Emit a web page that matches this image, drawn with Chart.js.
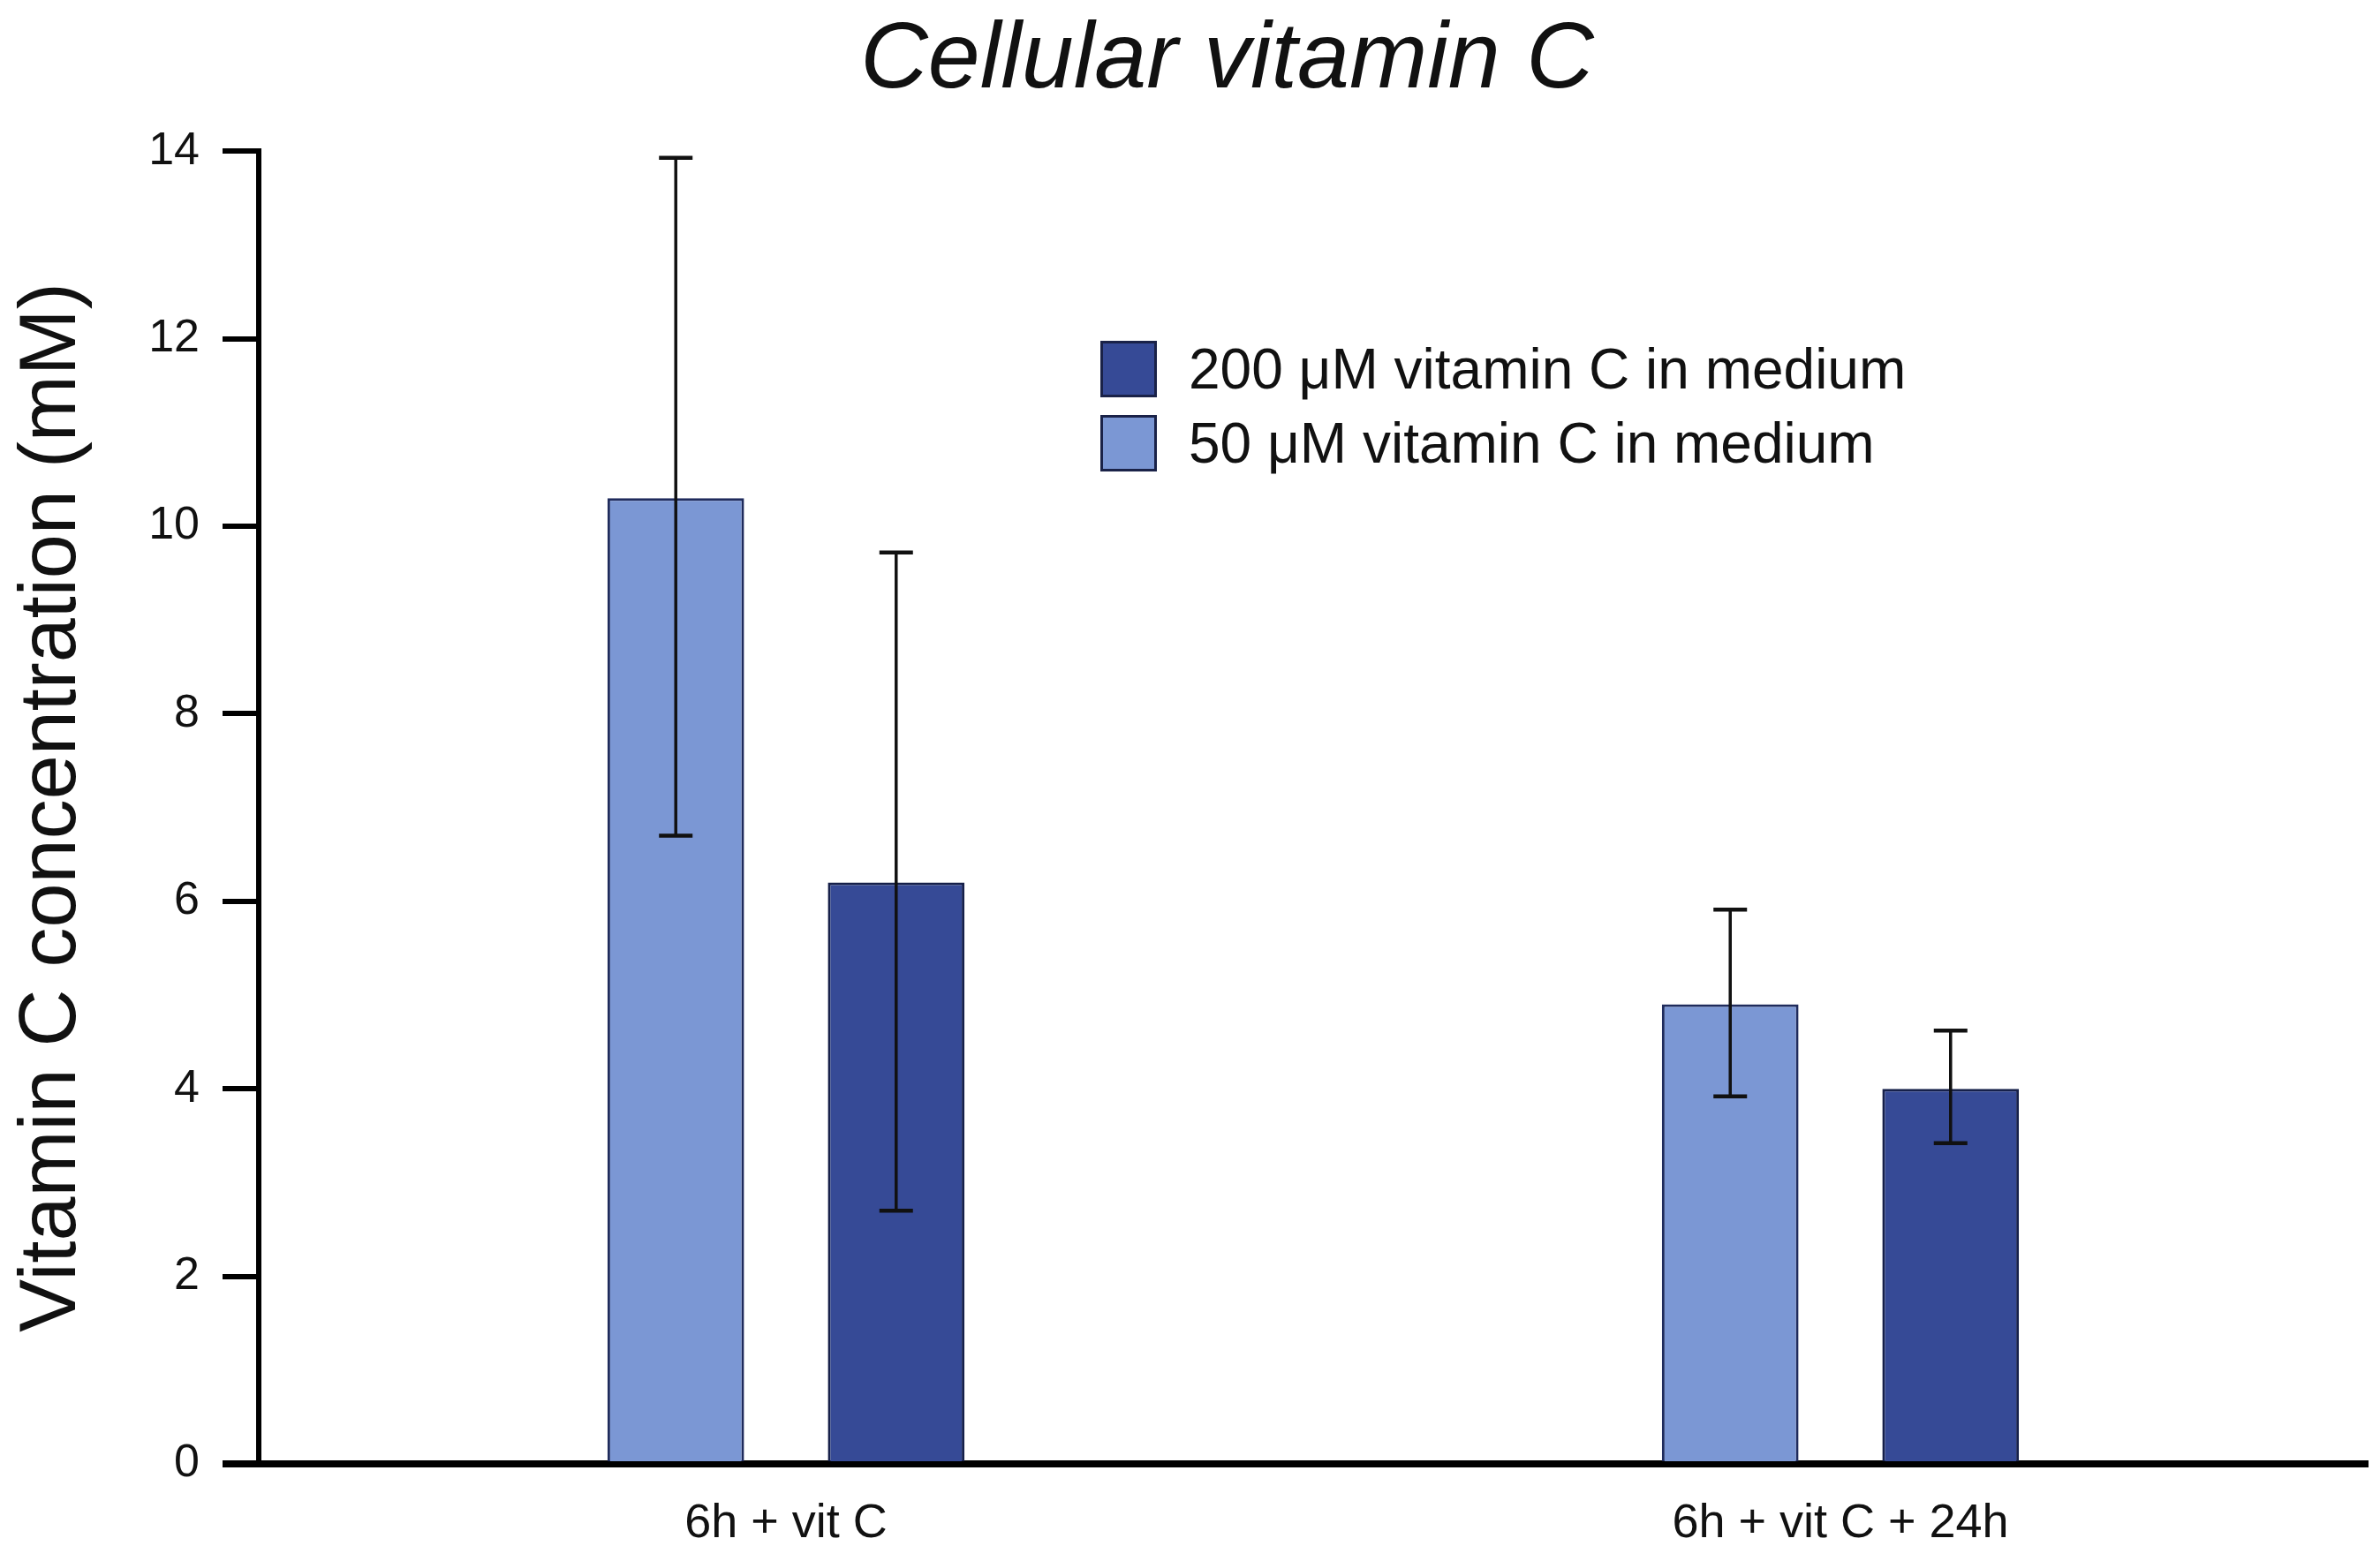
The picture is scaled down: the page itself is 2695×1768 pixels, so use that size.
<!DOCTYPE html>
<html>
<head>
<meta charset="utf-8">
<script src="https://cdn.jsdelivr.net/npm/chart.js@4.4.1/dist/chart.umd.min.js"></script>
<style>
  html, body { margin: 0; padding: 0; background: #ffffff; }
  #wrap { position: relative; width: 2695px; height: 1768px; }
</style>
</head>
<body>
<div id="wrap"><canvas id="c"></canvas></div>
<script>
// ---- data ----
const categories = ['6h + vit C', '6h + vit C + 24h'];
const label50 = '50 \u03BCM vitamin C in medium';
const label200 = '200 \u03BCM vitamin C in medium';
const vit50 = [10.3, 4.9];
const vit50Low = [6.7, 3.92];
const vit50High = [13.93, 5.91];
const vit200 = [6.2, 4.0];
const vit200Low = [2.7, 3.42];
const vit200High = [9.72, 4.62];
const yTicks = [0, 2, 4, 6, 8, 10, 12, 14];
const titleText = 'Cellular vitamin C';
const yTitleText = 'Vitamin C concentration (mM)';

const lightBlue = '#7b97d4';
const darkBlue = '#364a96';
const FONT = "'Liberation Sans', Arial, sans-serif";
const PAD_LEFT = 98;

const errorBars = {
  id: 'errorBars',
  afterDatasetsDraw(chart) {
    const ctx = chart.ctx;
    const y = chart.scales.y;
    ctx.save();
    ctx.strokeStyle = '#111111';
    ctx.lineWidth = 3.5;
    chart.data.datasets.forEach((ds, i) => {
      const meta = chart.getDatasetMeta(i);
      meta.data.forEach((bar, j) => {
        const x = bar.x;
        const yl = y.getPixelForValue(ds.errLow[j]);
        const yh = y.getPixelForValue(ds.errHigh[j]);
        const cap = 19;
        ctx.beginPath();
        ctx.moveTo(x, yl); ctx.lineTo(x, yh);
        ctx.stroke();
        ctx.lineWidth = 4.5;
        ctx.beginPath();
        ctx.moveTo(x - cap, yh); ctx.lineTo(x + cap, yh);
        ctx.moveTo(x - cap, yl); ctx.lineTo(x + cap, yl);
        ctx.stroke();
        ctx.lineWidth = 3.5;
      });
    });
    ctx.restore();
  }
};

const customLegend = {
  id: 'customLegend',
  afterDraw(chart, args, opts) {
    const ctx = chart.ctx;
    const items = chart.data.datasets.slice().reverse();
    ctx.save();
    ctx.font = opts.fontSize + 'px ' + FONT;
    ctx.textBaseline = 'middle';
    ctx.textAlign = 'left';
    items.forEach((ds, k) => {
      const cy = opts.y + k * opts.rowGap;
      const bs = opts.boxSize;
      ctx.fillStyle = ds.backgroundColor;
      ctx.fillRect(opts.x, cy - bs / 2, bs, bs);
      ctx.strokeStyle = '#1a2248';
      ctx.lineWidth = 3;
      ctx.strokeRect(opts.x + 1.5, cy - bs / 2 + 1.5, bs - 3, bs - 3);
      ctx.fillStyle = '#111111';
      ctx.fillText(ds.label, opts.x + bs + opts.textGap, cy + 4);
    });
    ctx.restore();
  }
};

new Chart(document.getElementById('c'), {
  type: 'bar',
  data: {
    labels: categories,
    datasets: [
      { label: label50, data: vit50, errLow: vit50Low, errHigh: vit50High,
        backgroundColor: lightBlue, borderColor: '#1f2b5c', borderWidth: 3, borderSkipped: 'bottom' },
      { label: label200, data: vit200, errLow: vit200Low, errHigh: vit200High,
        backgroundColor: darkBlue, borderColor: '#16204a', borderWidth: 3, borderSkipped: 'bottom' }
    ]
  },
  options: {
    responsive: true,
    maintainAspectRatio: false,
    devicePixelRatio: 1,
    animation: false,
    datasets: { bar: { categoryPercentage: 0.418, barPercentage: 0.62 } },
    layout: { padding: { left: PAD_LEFT, right: 14, top: 0, bottom: 0 } },
    plugins: {
      legend: { display: false },
      tooltip: { enabled: false },
      title: {
        display: true,
        text: titleText,
        color: '#111111',
        font: { family: FONT, size: 106, style: 'italic', weight: 'normal', lineHeight: 1.2 },
        padding: { top: 6, bottom: 38 }
      },
      customLegend: { x: 1246, y: 418, rowGap: 84, boxSize: 64, textGap: 36, fontSize: 64 }
    },
    scales: {
      x: {
        type: 'category',
        offset: true,
        grid: { display: true, drawOnChartArea: false, drawTicks: false, color: 'transparent' },
        border: { display: true, color: '#000000', width: 8 },
        ticks: { color: '#111111', font: { family: FONT, size: 54 }, padding: 36, maxRotation: 0 },
        afterFit(scale) { scale.height = 110; }
      },
      y: {
        min: 0,
        max: 14,
        afterBuildTicks(scale) { scale.ticks = yTicks.map(v => ({ value: v })); },
        grid: {
          drawOnChartArea: false,
          drawTicks: true,
          tickLength: 41,
          color: '#000000',
          lineWidth: 6,
          tickWidth: (c) => (c.tick && c.tick.value === 0 ? 8 : 6)
        },
        border: { display: true, color: '#000000', width: 6 },
        ticks: { color: '#111111', font: { family: FONT, size: 52 }, padding: 26 },
        title: {
          display: true,
          text: yTitleText,
          color: '#111111',
          font: { family: FONT, size: 90, lineHeight: 1.2 },
          padding: { top: 6 - PAD_LEFT, bottom: 0 }
        },
        afterFit(scale) { scale.width = 293 - PAD_LEFT; }
      }
    }
  },
  plugins: [errorBars, customLegend]
});
</script>
</body>
</html>
